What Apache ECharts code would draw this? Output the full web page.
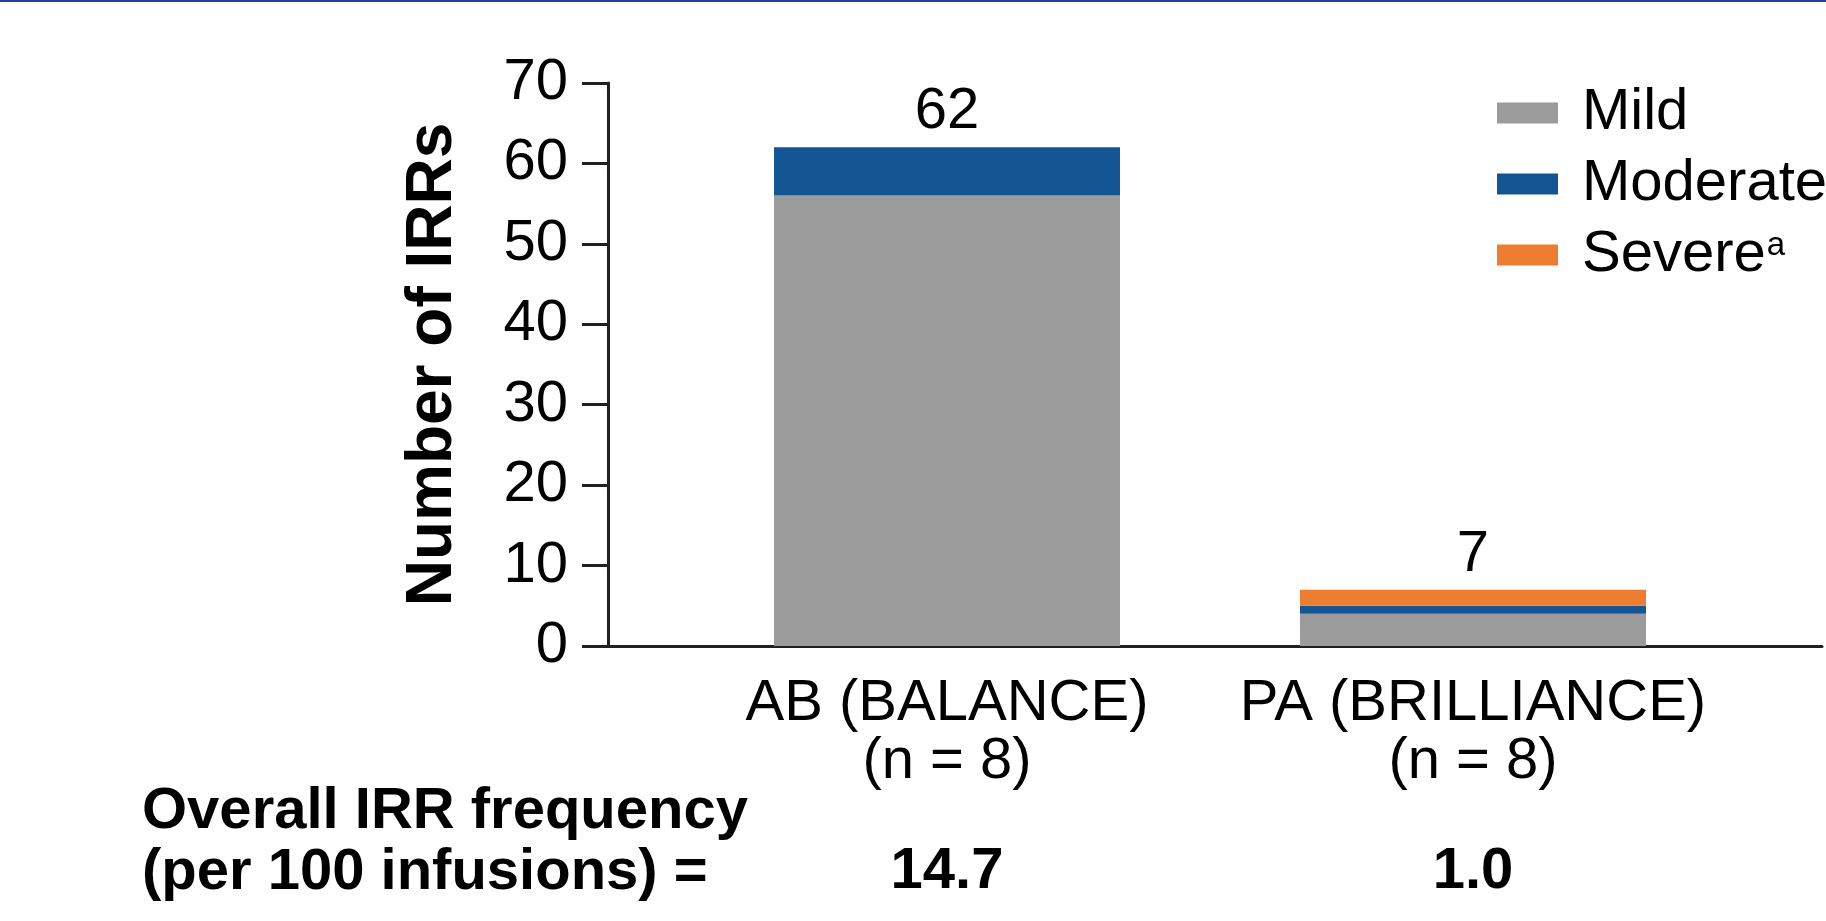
<!DOCTYPE html>
<html>
<head>
<meta charset="utf-8">
<script src="https://cdn.jsdelivr.net/npm/echarts@6/dist/echarts.min.js"></script>
<style>
html,body{margin:0;padding:0;background:#fff;}
#chart{width:1826px;height:921px;}
</style>
</head>
<body>
<div id="chart"></div>
<script>
const categories = ['AB (BALANCE)\n(n = 8)', 'PA (BRILLIANCE)\n(n = 8)'];
const frequencyLabels = ['14.7', '1.0'];
const seriesNames = ['Mild', 'Moderate', 'Severe'];
const mildValues = [56, 4];
const moderateValues = [6, 1];
const severeValues = [0, 2];
const yTicks = [0, 10, 20, 30, 40, 50, 60, 70];

const totals = categories.map((c, i) => mildValues[i] + moderateValues[i] + severeValues[i]);

const FONT = '"Liberation Sans", Arial, Helvetica, sans-serif';
const AXIS_COLOR = '#231f20';

const chart = echarts.init(document.getElementById('chart'));
chart.setOption({
  backgroundColor: '#ffffff',
  animation: false,
  textStyle: { fontFamily: FONT },
  graphic: [
    { type: 'rect', left: 0, top: 0, shape: { width: 1826, height: 2 }, style: { fill: '#23409a' } },
    {
      type: 'text', left: 142, top: 781,
      style: {
        text: 'Overall IRR frequency\n(per 100 infusions) =',
        font: 'bold 58px ' + FONT, lineHeight: 61, fill: '#000'
      }
    }
  ],
  legend: {
    data: seriesNames,
    orient: 'vertical',
    left: 1492,
    top: 79,
    itemWidth: 61,
    itemHeight: 21,
    itemGap: 13,
    icon: 'rect',
    formatter: function (name) {
      return name === 'Severe' ? 'Severe{sup|a}' : name;
    },
    textStyle: {
      fontSize: 58, lineHeight: 58, color: '#000', fontFamily: FONT,
      padding: [0, 0, 0, 19],
      rich: {
        sup: { fontSize: 33, lineHeight: 33, verticalAlign: 'top', color: '#000', fontFamily: FONT, padding: [3, 0, 0, 1] }
      }
    }
  },
  grid: [
    { left: 684, right: 90, top: 83, bottom: 275 },
    { left: 608, right: 4, top: 83, bottom: 275 }
  ],
  xAxis: [
    {
      type: 'category', gridIndex: 0, data: categories,
      axisLine: { show: false }, axisTick: { show: false },
      axisLabel: { fontSize: 58, lineHeight: 58, color: '#000', margin: 29, fontFamily: FONT, interval: 0 }
    },
    {
      type: 'category', gridIndex: 0, data: frequencyLabels, position: 'bottom',
      axisLine: { show: false }, axisTick: { show: false },
      axisLabel: { fontSize: 58, fontWeight: 'bold', color: '#000', margin: 197, fontFamily: FONT, interval: 0 }
    },
    {
      type: 'value', gridIndex: 1, min: 0, max: 1,
      axisLine: { show: true, lineStyle: { color: AXIS_COLOR, width: 3 } },
      axisTick: { show: false }, axisLabel: { show: false }, splitLine: { show: false }
    }
  ],
  yAxis: [
    {
      type: 'value', gridIndex: 0, min: 0, max: 70, interval: 10, offset: 76,
      name: 'Number of IRRs', nameLocation: 'middle', nameRotate: 90, nameGap: 143,
      nameTextStyle: { fontSize: 64, fontWeight: 'bold', color: '#000', fontFamily: FONT },
      axisLine: { show: true, lineStyle: { color: AXIS_COLOR, width: 3 } },
      axisTick: { show: true, length: 26, lineStyle: { color: AXIS_COLOR, width: 3 } },
      axisLabel: {
        fontSize: 58, color: '#000', margin: 40, fontFamily: FONT,
        formatter: function (v) { return yTicks.indexOf(v) >= 0 ? String(v) : ''; }
      },
      splitLine: { show: false }
    },
    {
      type: 'value', gridIndex: 1, min: 0, max: 70, show: false
    }
  ],
  series: [
    { name: 'Mild', type: 'bar', stack: 'irr', xAxisIndex: 0, yAxisIndex: 0, barWidth: 346, data: mildValues, itemStyle: { color: '#9b9b9b' } },
    { name: 'Moderate', type: 'bar', stack: 'irr', xAxisIndex: 0, yAxisIndex: 0, barWidth: 346, data: moderateValues, itemStyle: { color: '#135693' } },
    { name: 'Severe', type: 'bar', stack: 'irr', xAxisIndex: 0, yAxisIndex: 0, barWidth: 346, data: severeValues, itemStyle: { color: '#ed7d31' } },
    {
      name: 'Total', type: 'bar', xAxisIndex: 0, yAxisIndex: 0, barWidth: 346, barGap: '-100%',
      data: totals, itemStyle: { color: 'rgba(0,0,0,0)' }, silent: true, z: 1,
      label: { show: true, position: 'top', distance: 6, fontSize: 58, color: '#000', fontFamily: FONT }
    }
  ]
});
</script>
</body>
</html>
